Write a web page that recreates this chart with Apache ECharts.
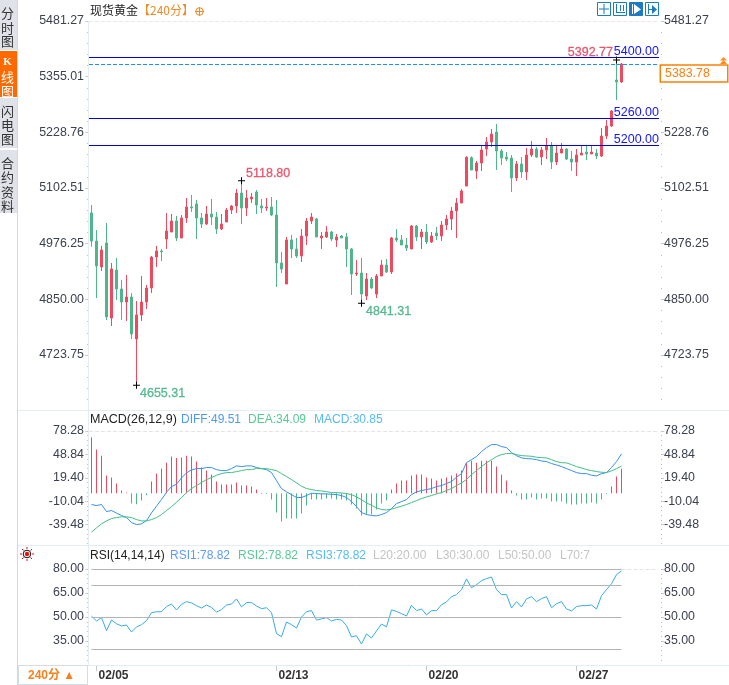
<!DOCTYPE html>
<html>
<head>
<meta charset="utf-8">
<title>现货黄金</title>
<style>
html, body { margin: 0; padding: 0; background: #fff; }
#main { width: 729px; height: 685px; }
</style>
<script src="https://cdn.jsdelivr.net/npm/echarts@6/dist/echarts.min.js"></script>
</head>
<body>
<div id="main"></div>
<script>
// 蜡烛图数据
var opens = [5045.9,4982.4,4923.4,4977.9,4807.8,4916.6,4873.6,4844.1,4855.4,4760.2,4814.6,4844.1,4875.8,4946.1,4959.7,4986.9,5002.8,5027.8,4989.2,5034.6,5059.5,5066.3,5034.6,5020.9,5043.6,5036.8,5009.6,5025.5,5052.7,5061.8,5091.2,5057.2,5077.6,5093.5,5061.8,5057.2,5059.5,5041.4,4932.5,4884.9,4984.7,4964.3,4948.4,4993.7,5027.8,5032.3,4989.2,4991.5,5002.8,4984.7,4993.7,4991.5,4964.3,4907.6,4909.8,4857.7,4896.2,4862.2,4903.0,4928.0,4912.1,4989.2,4984.7,4973.3,4964.3,5016.4,4991.5,5002.8,4980.1,5000.5,4993.7,5018.7,5032.3,5050.4,5068.6,5107.1,5171.3,5141.1,5159.3,5191.0,5206.9,5229.6,5186.5,5172.9,5170.6,5125.3,5157.0,5138.9,5177.4,5191.0,5172.9,5188.8,5197.8,5161.5,5181.9,5191.0,5168.3,5161.5,5177.4,5184.2,5179.7,5181.9,5175.1,5220.5,5243.2,5347.5,5342.9];
var closes = [4982.4,4925.7,4962.0,4810.1,4918.9,4873.6,4844.1,4855.4,4771.5,4814.6,4844.1,4875.8,4946.1,4959.7,4958.0,5005.1,5027.8,4989.2,5034.6,5059.5,5057.2,5034.6,5020.9,5043.6,5036.8,5009.6,5020.9,5052.7,5061.8,5091.2,5057.2,5079.9,5082.2,5064.0,5057.2,5059.5,5041.4,4932.5,4918.9,4984.7,4964.3,4948.4,4993.7,5027.8,5036.8,4991.5,4993.7,5002.8,4986.9,4991.5,4989.2,4964.3,4907.6,4909.8,4862.2,4896.2,4875.8,4903.0,4928.0,4912.1,4989.2,4984.7,4973.3,4966.5,5016.4,4991.5,5002.8,4980.1,4993.7,4993.7,5018.7,5032.3,5050.4,5068.6,5095.8,5172.2,5143.4,5159.3,5188.8,5206.9,5225.0,5186.5,5170.6,5168.3,5125.3,5157.0,5138.9,5177.4,5191.0,5172.9,5188.8,5197.8,5161.5,5181.9,5191.0,5168.3,5161.5,5177.4,5181.9,5179.7,5184.2,5175.1,5220.5,5243.2,5277.2,5342.9,5383.78];
var lows = [4969.5,4853.1,4914.4,4803.3,4789.6,4848.6,4803.3,4801.0,4760.2,4655.31,4801.0,4828.2,4864.5,4923.4,4937.0,4964.3,5002.8,4982.4,4989.2,5023.2,5048.2,4986.9,5011.9,5018.7,5018.7,4998.3,5007.3,5025.5,5043.6,5045.9,5020.9,5039.1,5068.6,5043.6,5045.9,5050.4,5039.1,4878.1,4909.8,4884.9,4943.9,4943.9,4934.8,4973.3,5020.9,4991.5,4964.3,4989.2,4982.4,4968.8,4989.2,4923.4,4859.9,4903.0,4841.31,4848.6,4873.6,4853.1,4903.0,4909.8,4907.6,4980.1,4973.3,4959.7,4964.3,4982.4,4964.3,4975.6,4977.9,4984.7,4982.4,5007.3,5007.3,4989.2,5068.6,5107.1,5143.4,5123.0,5141.1,5175.1,5195.6,5143.4,5154.7,5163.8,5093.5,5118.5,5125.3,5120.7,5172.9,5170.6,5154.7,5168.3,5145.7,5154.7,5181.9,5166.1,5141.1,5129.8,5177.4,5166.1,5179.7,5168.3,5172.9,5213.7,5240.9,5302.1,5340.7];
var highs = [5064.0,5007.3,4971.1,5023.2,4932.5,4943.9,4894.0,4905.3,4864.5,4846.3,4903.0,4882.6,4948.4,4971.1,4964.3,5045.9,5043.6,5039.1,5041.4,5079.9,5086.7,5075.4,5045.9,5061.8,5077.6,5048.2,5043.6,5057.2,5064.0,5100.3,5118.8,5098.0,5091.2,5098.0,5077.6,5079.9,5082.2,5075.4,4957.5,4991.5,4996.0,4989.2,5009.6,5034.6,5045.9,5034.6,5002.8,5016.4,5005.1,4998.3,4996.0,5000.5,4966.5,4939.3,4943.9,4909.8,4900.8,4907.6,4939.3,4941.6,4991.5,5009.6,4996.0,4989.2,5018.7,5018.7,5009.6,5020.9,5002.8,5014.2,5027.8,5041.4,5059.5,5079.9,5100.3,5174.5,5174.5,5163.8,5197.8,5218.2,5236.4,5247.7,5191.0,5184.2,5177.4,5163.8,5172.9,5193.3,5209.2,5195.6,5195.6,5216.0,5206.9,5200.1,5204.6,5192.6,5186.5,5191.0,5200.1,5197.8,5200.1,5191.0,5238.6,5256.8,5279.5,5392.77,5386.0];

// MACD
var macdBars = [70.4,54.9,47.3,22.2,19.7,12.2,3.4,0.8,-13,-13.8,-9.2,-2.5,14.7,24.7,31,38.5,46.1,44.4,44.8,47.3,46.1,39.8,32.3,28.5,23.5,14.7,10.9,10.9,10.9,13.4,9.6,9.6,8.4,4.6,-0.8,-0.8,-8,-24.3,-35.6,-31.8,-31.8,-31.8,-25.6,-15.5,-8,-8,-8,-6.7,-6.7,-8,-8,-9.2,-14.2,-19.3,-28.1,-26.8,-26.8,-20.5,-13,-9.2,4.6,12.2,15.9,15.9,22.2,23.5,23.5,19.7,18.4,15.9,18.4,19.7,22.2,24.7,28.5,38.5,41,38.5,41,41,41,33.5,23.5,15.9,3.4,-2.9,-8,-8,-5.4,-8,-6.7,-6.7,-10.5,-10.5,-10.5,-13,-14.2,-14.2,-13,-13,-11.7,-13,-8,-0.8,8.4,21,30.85];
var diffLine = [-14.2,-15.5,-14.2,-23,-21.8,-25,-28,-30.6,-36.9,-39.4,-38.5,-34.4,-24.7,-16.3,-8,1.3,8.4,11.3,19.3,25.6,29.3,31,31,32.3,32.3,29.7,28.5,28.5,31,34.4,33.5,34.4,34.4,32.3,31,29.7,26,15.9,5.9,1.7,-1.7,-5.4,-5.4,-2.9,0,-0.4,-0.8,-0.8,-1.3,-1.7,-2.9,-5.4,-10.5,-16.8,-24.3,-26.8,-28,-28.5,-26.8,-24.3,-19.3,-13,-10.5,-8,-1.7,1.7,3.4,4.6,5.9,8.4,9.6,12.2,14.7,20.1,24.7,38.5,42.3,46.1,52.4,57.4,61.2,61.2,58.7,57.4,51.1,47.3,44.4,43.6,43.2,42.3,40.6,39.8,37.3,35.6,33.5,31,28.5,26,24.7,24.7,22.6,21.8,24.7,26,32.3,39.8,49.51];
var deaLine = [-49,-43.6,-38.5,-34.8,-31.8,-30.6,-29.7,-29.7,-30.6,-33.1,-34.8,-34.8,-33.1,-30.6,-26.8,-21.8,-16.8,-11.3,-5.4,0.8,5.9,9.6,13.4,17.2,19.7,22.6,24.7,26,26,27.2,28.5,29.7,29.7,31,31,31,29.7,28.5,24.7,21,17.2,13,8.8,5.9,4.6,3.4,2.9,2.1,0.8,0.8,0.4,-0.4,-1.7,-4.6,-8,-12.2,-15.1,-18.4,-20.5,-21,-20.1,-18,-16.3,-14.2,-11.7,-9.2,-6.7,-4.6,-2.9,-0.8,0.8,3.4,5.9,9.6,13,17.2,23.5,28.5,33.5,38.1,42.3,46.1,48.6,49.9,49.9,48.6,47.3,46.9,46.5,45.3,44.8,44.4,42.3,39.8,38.5,38.1,36,33.5,31.8,29.7,28.5,27.2,26.4,26,28.1,31,34.09];

// RSI
var rsiLine = [50.6,47.5,49.6,41.5,48.1,45.8,44.4,45,40.6,43.8,45.2,47.7,52.7,53.3,53.3,56.5,58.1,54.4,57.9,59.6,58.8,57.1,55.6,57.5,56,53.1,54.6,57.5,58.1,61.3,56.3,59,59,56.9,55.2,55.8,52.7,39.6,37.7,46.9,45.2,43.1,50,53.3,54,48.1,48.8,49.6,47.5,48.5,48.1,44.6,37.5,38.3,33.1,39.4,36.9,41.3,45.6,43.8,54.4,53.5,52.1,50.6,57.3,54,55,51.3,54,54,57.7,59.4,62.7,64,67.1,73.8,68.3,70.2,72.7,74,75,67.1,64,64,55.6,59.6,56.3,61.3,62.7,59.6,61.5,62.7,55.8,58.3,59.6,55,53.8,56.5,57.1,57.1,57.5,55,63.3,67.1,70.8,76.5,78.82];
var rsiLevels = [80, 70, 50, 30, 20];

// 坐标轴刻度
var priceTicks = [5481.27, 5355.01, 5228.76, 5102.51, 4976.25, 4850.00, 4723.75];
var macdTicks = [78.28, 48.84, 19.40, -10.04, -39.48];
var rsiTicks = [80.00, 65.00, 50.00, 35.00];
var dateSlots = [1, 37, 67, 97];
var dateNames = ['02/05', '02/13', '02/20', '02/27'];
var slotCount = 114;

// 水平价位线
var priceLines = [5400.00, 5260.00, 5200.00];
var lastPrice = 5383.78;

// 高低点标记 [下标, 价格]
var highMark = [30, 5118.80];
var lowMark = [9, 4655.31];
var lowMark2 = [54, 4841.31];
var topMark = [105, 5392.77];

var RED = '#ee4a5f', GREEN = '#4eb688', FONT = '"Liberation Sans","Noto Sans CJK SC",sans-serif';
var CROSS = 'path://M3 0h1v7h-1z M0 3h7v1h-7z';
var LEFT = 89, WIDTH = 570;

var categories = [];
for (var i = 0; i < slotCount; i++) {
	var at = dateSlots.indexOf(i);
	categories.push(at >= 0 ? dateNames[at] : ' ' + i);
}

function isDate(index) {
	return dateSlots.indexOf(index) >= 0;
}

function minorValues(ticks, min, max) {
	var step = Math.abs(ticks[0] - ticks[1]) / 5, out = [];
	for (var v = ticks[0]; v >= min; v -= step) {
		if (v <= max) out.push(v);
	}
	return out;
}

function xAxisFor(gridIndex, showDates) {
	return {
		type: 'category', gridIndex: gridIndex, data: categories, boundaryGap: true,
		axisLine: { show: false },
		axisTick: { show: showDates, alignWithLabel: true, interval: isDate, length: 6, lineStyle: { color: '#c8c8c8' } },
		axisLabel: {
			show: showDates, interval: isDate, align: 'left', margin: 5, padding: [0, 0, 0, 2],
			color: '#333', fontFamily: FONT, fontSize: 12, fontWeight: 'bold',
			hideOverlap: false
		},
		splitLine: { show: false }
	};
}

// 每个面板: 左右标签轴 + 左右小刻度轴
function yAxesFor(gridIndex, ticks, min, max) {
	var base = {
		type: 'value', gridIndex: gridIndex, min: min, max: max, scale: true,
		splitLine: { show: false }
	};
	var label = {
		customValues: ticks, color: '#3b4150', fontFamily: FONT, fontSize: 12.4, padding: [2, 0, 0, 0],
		formatter: function(v) { return v.toFixed(2); }
	};
	var minor = minorValues(ticks, min, max);
	return [
		Object.assign({}, base, {
			position: 'left', offset: 1,
			axisLine: { show: false },
			axisTick: { show: true, customValues: ticks, length: 3, lineStyle: { color: '#c9d3da' } },
			axisLabel: Object.assign({ margin: 4 }, label)
		}),
		Object.assign({}, base, {
			position: 'right', offset: 2,
			axisLine: { show: false },
			axisTick: { show: true, customValues: ticks, length: 3, lineStyle: { color: '#c9c9c9' } },
			axisLabel: Object.assign({ margin: 3 }, label)
		}),
		Object.assign({}, base, {
			position: 'left', offset: 1,
			axisLine: { show: false },
			axisLabel: { show: false },
			axisTick: { show: true, customValues: minor, length: 1, lineStyle: { color: '#bcc6cd' } }
		}),
		Object.assign({}, base, {
			position: 'right', offset: 2,
			axisLine: { show: false },
			axisLabel: { show: false },
			axisTick: { show: true, customValues: minor, length: 1, lineStyle: { color: '#bdbdbd' } }
		})
	];
}

function topDash(value) {
	return {
		silent: true, symbol: 'none', label: { show: false },
		lineStyle: { color: '#e4e4e4', type: 'dashed', width: 1 },
		data: [{ yAxis: value }]
	};
}

function markLabel(coord, text, color, position, offset) {
	return {
		coord: coord, value: text, symbol: CROSS, symbolSize: 7,
		itemStyle: { color: '#000' },
		label: {
			show: true, formatter: text, color: color, position: position, offset: offset, distance: 1,
			fontFamily: FONT, fontSize: 12.5, textBorderColor: color, textBorderWidth: 0.3
		}
	};
}

var candleMarkLines = priceLines.map(function(p) {
	return {
		yAxis: p,
		lineStyle: { color: '#0000e6', type: 'solid', width: 1 },
		label: { show: true, position: 'insideEndTop', distance: 1, offset: [1, 2.5], formatter: p.toFixed(2), color: '#1414ff', fontFamily: FONT, fontSize: 12.5, padding: [0, 0, 1, 0] }
	};
});
candleMarkLines.push({
	yAxis: lastPrice,
	lineStyle: { color: '#1e8fff', type: 'dashed', width: 1 },
	label: {
		show: true, position: 'end', distance: 1, offset: [1, 9.5], formatter: lastPrice.toFixed(2),
		color: '#ff7f0e', fontFamily: FONT, fontSize: 12.4, align: 'left',
		backgroundColor: '#fff', borderColor: '#ff8000', borderWidth: 1.5,
		width: 60, padding: [2, 2, 1, 4]
	}
});
candleMarkLines.push({
	yAxis: priceTicks[0],
	lineStyle: { color: '#e8e8e8', type: 'dashed', width: 1 },
	label: { show: false }
});

var option = {
	animation: false,
	backgroundColor: '#fff',
	textStyle: { fontFamily: FONT },
	grid: [
		{ left: LEFT, width: WIDTH, top: 21, height: 387 },
		{ left: LEFT, width: WIDTH, top: 431, height: 114 },
		{ left: LEFT, width: WIDTH, top: 569, height: 96 }
	],
	xAxis: [xAxisFor(0, false), xAxisFor(1, false), xAxisFor(2, true)],
	yAxis: []
		.concat(yAxesFor(0, priceTicks, 4603.7, 5481.27))
		.concat(yAxesFor(1, macdTicks, -65.1, 78.28))
		.concat(yAxesFor(2, rsiTicks, 20, 80)),
	series: [
		{
			name: 'K', type: 'candlestick', xAxisIndex: 0, yAxisIndex: 0, barWidth: 3,
			itemStyle: { color: RED, color0: GREEN, borderColor: RED, borderColor0: GREEN, borderWidth: 1 },
			data: opens.map(function(o, i) { return [o, closes[i], lows[i], highs[i]]; }),
			markLine: { silent: true, symbol: 'none', data: candleMarkLines },
			markPoint: {
				silent: true,
				data: [
					markLabel(highMark, highMark[1].toFixed(2), '#e9566c', 'right', [0, -7]),
					markLabel(lowMark, lowMark[1].toFixed(2), '#55b98f', 'right', [-1, 8]),
					markLabel(lowMark2, lowMark2[1].toFixed(2), '#55b98f', 'right', [0, 8]),
					markLabel(topMark, topMark[1].toFixed(2), '#e9566c', 'left', [1, -7])
				]
			}
		},
		{
			name: 'MACD', type: 'bar', xAxisIndex: 1, yAxisIndex: 4, barWidth: 1,
			itemStyle: { color: function(p) { return p.value >= 0 ? RED : GREEN; } },
			data: macdBars,
			markLine: topDash(macdTicks[0])
		},
		{
			name: 'DIFF', type: 'line', xAxisIndex: 1, yAxisIndex: 4, symbol: 'none', z: 3,
			lineStyle: { color: '#3490ee', width: 1 }, data: diffLine
		},
		{
			name: 'DEA', type: 'line', xAxisIndex: 1, yAxisIndex: 4, symbol: 'none', z: 3,
			lineStyle: { color: '#3fbf84', width: 1 }, data: deaLine
		},
		{
			name: 'RSI', type: 'line', xAxisIndex: 2, yAxisIndex: 8, symbol: 'none', z: 3,
			lineStyle: { color: '#35aee2', width: 1 }, data: rsiLine,
			markLine: {
				silent: true, symbol: 'none', label: { show: false },
				lineStyle: { color: '#b4b4b4', type: 'solid', width: 1 },
				data: rsiLevels.map(function(lv) {
					return [{ xAxis: categories[0], yAxis: lv }, { xAxis: categories[rsiLine.length - 1], yAxis: lv }];
				}).concat([[
					{ xAxis: categories[rsiLine.length - 1], yAxis: rsiLevels[0], lineStyle: { color: '#e4e4e4', type: 'dashed', width: 1 } },
					{ xAxis: categories[slotCount - 1], yAxis: rsiLevels[0] }
				]])
			}
		}
	],
	graphic: { elements: buildChrome() }
};

function txt(x, y, text, color, font, extra) {
	return {
		type: 'text', silent: true, z: 100,
		style: Object.assign({ x: x, y: y, text: text, fill: color, font: font || ('12px ' + FONT), textVerticalAlign: 'middle' }, extra || {})
	};
}

function rect(x, y, w, h, fill, stroke) {
	return {
		type: 'rect', silent: true, z: 90,
		shape: { x: x, y: y, width: w, height: h },
		style: { fill: fill || 'none', stroke: stroke || 'none', lineWidth: 1 }
	};
}

function hline(x1, x2, y, color) {
	return {
		type: 'line', silent: true, z: 80,
		shape: { x1: x1, y1: y, x2: x2, y2: y },
		style: { stroke: color, lineWidth: 1 }
	};
}

function vline(x, y1, y2, color) {
	return {
		type: 'line', silent: true, z: 95,
		shape: { x1: x, y1: y1, x2: x, y2: y2 },
		style: { stroke: color, lineWidth: 1 }
	};
}

function tri(points, color) {
	return {
		type: 'polygon', silent: true, z: 100,
		shape: { points: points },
		style: { fill: color }
	};
}

function buildChrome() {
	var els = [];
	var TAB = '#e0e2ea', ORANGE = '#ff6a00', RULE = '#e6edf2', ICON = '#1b7cc2';
	var cjk13 = '13px "Noto Sans CJK SC",sans-serif';

	// 左侧标签
	els.push(rect(0, 0, 17, 50, TAB));
	els.push(rect(0, 51, 17, 46, ORANGE));
	els.push(rect(0, 98, 17, 50, TAB));
	els.push(rect(0, 150, 17, 63, TAB));
	[['分', 13], ['时', 28], ['图', 41], ['闪', 111], ['电', 125], ['图', 139], ['合', 163], ['约', 177], ['资', 192], ['料', 206]].forEach(function(c) {
		els.push(txt(7.5, c[1], c[0], '#333', cjk13, { textAlign: 'center' }));
	});
	els.push(txt(7.5, 62, 'K', '#fff', 'bold 11px "Liberation Serif",serif', { textAlign: 'center' }));
	els.push(txt(7.5, 77, '线', '#fff', cjk13, { textAlign: 'center' }));
	els.push(txt(7.5, 91, '图', '#fff', cjk13, { textAlign: 'center' }));
	els.push(vline(17.5, 0, 685, '#d5d8e0'));

	// 分隔线
	els.push(hline(18, 729, 410.5, RULE));
	els.push(hline(18, 729, 545.5, RULE));
	els.push(hline(88, 729, 665.5, RULE));
	var axisRule = vline(88.5, 21, 665, RULE);
	axisRule.z = 1;
	els.push(axisRule);

	// 标题
	els.push(txt(90, 10, '现货黄金', '#222', '12px "Noto Sans CJK SC",sans-serif'));
	els.push(txt(138, 10, '【240分】', '#f08a24', '12px "Noto Sans CJK SC",sans-serif'));
	els.push({
		type: 'circle', silent: true, z: 100, shape: { cx: 199.5, cy: 11.5, r: 3.8 },
		style: { fill: 'none', stroke: '#f08a24', lineWidth: 1 }
	});
	els.push(hline(195, 204, 11.5, '#f08a24'));
	els[els.length - 1].z = 100;
	els.push(vline(199.5, 7, 16, '#f08a24'));

	// 工具按钮
	[597, 613, 629, 645].forEach(function(x, n) {
		var box = rect(x + 0.5, 2.5, 13, 13, n === 2 ? ICON : '#fff', ICON);
		els.push(box);
		var c = n === 2 ? '#fff' : ICON;
		if (n === 0) {
			els.push(hline(x + 2, x + 12, 9, c), vline(x + 7, 4, 14, c));
			els[els.length - 2].z = 100;
			els.push(rect(x + 6, 8, 2, 2, '#fff', '#fff'));
		} else if (n === 1) {
			els.push(vline(x + 3.5, 4, 13, c), hline(x + 3, x + 12, 12.5, c));
			els[els.length - 1].z = 100;
			els.push(vline(x + 7.5, 5, 11, c), vline(x + 10.5, 5, 11, c));
		} else if (n === 2) {
			els.push(vline(x + 3.5, 4, 14, c));
			els.push(tri([[x + 5, 4], [x + 12, 9.5], [x + 5, 14]], c));
		} else {
			els.push(vline(x + 3.5, 4, 14, c));
			els.push(tri([[x + 7, 5], [x + 12, 9.5], [x + 7, 14]], c));
			els.push(hline(x + 4, x + 8, 9.5, c));
			els[els.length - 1].z = 100;
		}
	});

	// 最新价小箭头
	els.push(tri([[723.5, 57], [720, 60.5], [727, 60.5]], '#ff8c1a'));
	els.push(tri([[723.5, 60], [720, 64], [727, 64]], '#ff8c1a'));

	// MACD / RSI 指标文字
	els.push(txt(90, 420, 'MACD(26,12,9)', '#222', '12.5px ' + FONT));
	els.push(txt(181, 420, 'DIFF:49.51', '#4b9cf5'));
	els.push(txt(248, 420, 'DEA:34.09', '#57c995'));
	els.push(txt(314, 420, 'MACD:30.85', '#55bdf0'));
	els.push(txt(90, 556, 'RSI(14,14,14)', '#222'));
	els.push(txt(170, 556, 'RSI1:78.82', '#5f9cf5'));
	els.push(txt(238, 556, 'RSI2:78.82', '#57c995'));
	els.push(txt(306, 556, 'RSI3:78.82', '#55bdf0'));
	els.push(txt(373, 556, 'L20:20.00', '#c4c4c4'));
	els.push(txt(436, 556, 'L30:30.00', '#c4c4c4'));
	els.push(txt(498, 556, 'L50:50.00', '#c4c4c4'));
	els.push(txt(560, 556, 'L70:7', '#c4c4c4'));

	// 红点图标
	[[27, 547, 27, 549], [27, 559, 27, 561], [20, 554, 22, 554], [32, 554, 34, 554], [22, 549, 23.5, 550.5], [32, 549, 30.5, 550.5], [22, 559, 23.5, 557.5], [32, 559, 30.5, 557.5]].forEach(function(r) {
		els.push({ type: 'line', silent: true, z: 100, shape: { x1: r[0], y1: r[1], x2: r[2], y2: r[3] }, style: { stroke: '#f01010', lineWidth: 1 } });
	});
	els.push({ type: 'circle', silent: true, z: 100, shape: { cx: 27, cy: 554, r: 3.8 }, style: { fill: '#fff', stroke: '#111', lineWidth: 1 } });
	els.push({ type: 'circle', silent: true, z: 101, shape: { cx: 27, cy: 554, r: 2.2 }, style: { fill: '#ee1111' } });

	// 周期按钮
	els.push(rect(18.5, 665.5, 69, 19, '#fff', '#d5dde3'));
	els.push(txt(28, 675.5, '240分 ▲', '#f5821f', 'bold 12px "Liberation Sans","Noto Sans CJK SC",sans-serif'));

	return els;
}

var myChart = echarts.init(document.getElementById('main'));
myChart.setOption(option);
</script>
</body>
</html>
